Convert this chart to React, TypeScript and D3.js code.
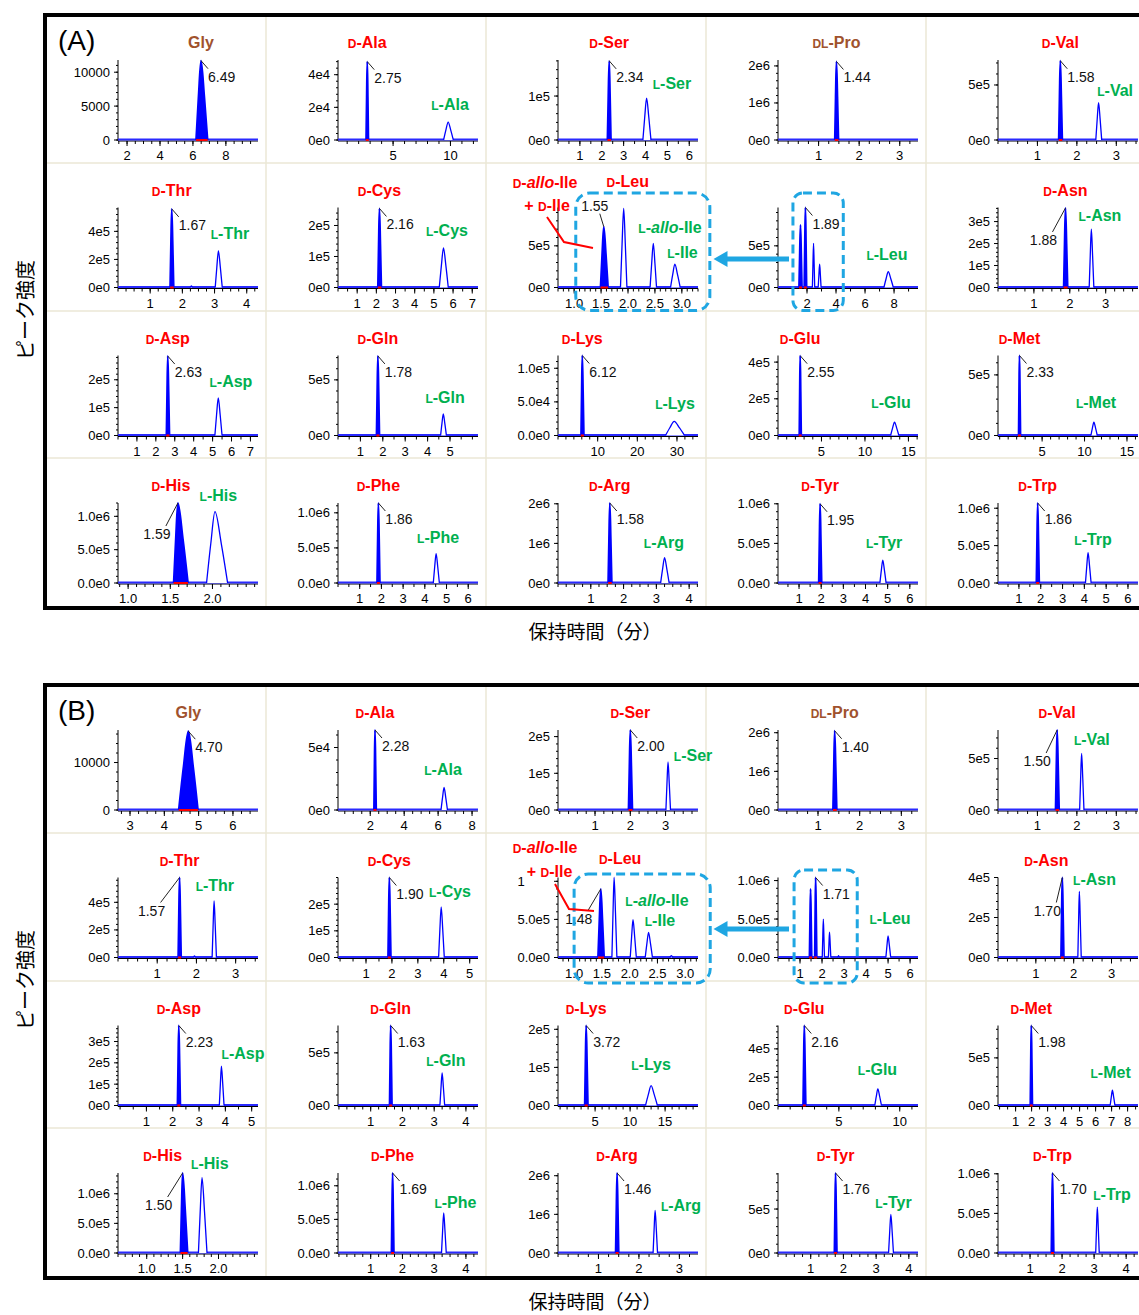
import * as d3 from "d3"

const FONT = "'Liberation Sans', Arial, sans-serif"
const JP = "'Noto Sans CJK JP', sans-serif"
const BLUE = "#0000ff"
const RED = "#ff0000"
const GREEN = "#00b050"
const BROWN = "#a0522d"
const CYAN = "#1fa6e2"
const GRID = "#ebe7d6"

// ---------- (A) ----------
const titlesA = ["Gly", "D-Ala", "D-Ser", "DL-Pro", "D-Val", "D-Thr", "D-Cys", "D-Leu", "", "D-Asn",
  "D-Asp", "D-Gln", "D-Lys", "D-Glu", "D-Met", "D-His", "D-Phe", "D-Arg", "D-Tyr", "D-Trp"]
const lNamesA = ["", "L-Ala", "L-Ser", "", "L-Val", "L-Thr", "L-Cys", "", "L-Leu", "L-Asn",
  "L-Asp", "L-Gln", "L-Lys", "L-Glu", "L-Met", "L-His", "L-Phe", "L-Arg", "L-Tyr", "L-Trp"]
const xDomA = [[1.45, 9.95], [0.2, 12.4], [0, 6.4], [0, 3.45], [0, 3.55], [0, 4.35], [0, 7.3], [0.7, 3.3], [0, 9.65], [0, 3.9],
  [0, 7.4], [0, 6.25], [0, 35.3], [0, 16.1], [-0.2, 16.3], [0.88, 2.54], [0, 6.45], [0, 4.27], [0.05, 6.37], [0.04, 6.46]]
const xTicksA = [[2, 4, 6, 8], [5, 10], [1, 2, 3, 4, 5, 6], [1, 2, 3], [1, 2, 3], [1, 2, 3, 4], [1, 2, 3, 4, 5, 6, 7], [1, 1.5, 2, 2.5, 3], [2, 4, 6, 8], [1, 2, 3],
  [1, 2, 3, 4, 5, 6, 7], [1, 2, 3, 4, 5], [10, 20, 30], [5, 10, 15], [5, 10, 15], [1, 1.5, 2], [1, 2, 3, 4, 5, 6], [1, 2, 3, 4], [1, 2, 3, 4, 5, 6], [1, 2, 3, 4, 5, 6]]
const xMinorA = [0.5, 1, 0.5, 0.25, 0.25, 0.25, 0.5, 0.1, 1, 0.25, 0.5, 0.5, 2, 1, 1, 0.1, 0.5, 0.25, 0.5, 0.5]
const yTicksA = [[0, 5000, 10000], [0, 2e4, 4e4], [0, 1e5], [0, 1e6, 2e6], [0, 5e5], [0, 2e5, 4e5], [0, 1e5, 2e5], [0, 5e5], [0, 5e5], [0, 1e5, 2e5, 3e5],
  [0, 1e5, 2e5], [0, 5e5], [0, 5e4, 1e5], [0, 2e5, 4e5], [0, 5e5], [0, 5e5, 1e6], [0, 5e5, 1e6], [0, 1e6, 2e6], [0, 5e5, 1e6], [0, 5e5, 1e6]]
const yFmtA = ["i", "e", "e", "e", "e", "e", "e", "e", "e", "e", "e", "e", "e1", "e", "e", "e1", "e1", "e", "e1", "e1"]
const yTopA = [11800, 4.9e4, 1.82e5, 2.16e6, 7.27e5, 5.7e5, 2.58e5, 9.6e5, 9.6e5, 3.64e5,
  2.87e5, 7.19e5, 1.19e5, 4.36e5, 6.6e5, 1.2e6, 1.14e6, 2.02e6, 1.01e6, 1.07e6]
// peaks: [retention time, height, left half-width, right half-width, filled]
const peaksA = [
  [[6.49, 11700, 0.3, 0.4, 1]],
  [[2.75, 48000, 0.1, 0.1, 1], [9.8, 11000, 0.4, 0.45, 0]],
  [[2.34, 1.8e5, 0.08, 0.08, 1], [4.05, 0.95e5, 0.17, 0.2, 0]],
  [[1.44, 2.12e6, 0.04, 0.05, 1]],
  [[1.58, 7.2e5, 0.04, 0.05, 1], [2.55, 3.4e5, 0.07, 0.08, 0]],
  [[1.67, 5.6e5, 0.05, 0.06, 1], [2.28, 1.2e4, 0.04, 0.04, 0], [3.12, 2.6e5, 0.1, 0.12, 0]],
  [[2.16, 2.55e5, 0.08, 0.1, 1], [5.5, 1.28e5, 0.22, 0.25, 0]],
  [[1.55, 7.3e5, 0.06, 0.08, 1], [1.92, 9.5e5, 0.06, 0.06, 0], [2.47, 5.3e5, 0.06, 0.06, 0], [2.87, 2.8e5, 0.08, 0.1, 0]],
  [[1.55, 7.5e5, 0.1, 0.1, 1], [1.89, 9.6e5, 0.08, 0.08, 1], [2.45, 5.3e5, 0.08, 0.08, 0], [2.87, 2.8e5, 0.1, 0.1, 0], [7.6, 1.9e5, 0.3, 0.35, 0]],
  [[1.88, 3.62e5, 0.05, 0.06, 1], [2.6, 2.65e5, 0.06, 0.07, 0]],
  [[2.63, 2.85e5, 0.07, 0.09, 1], [5.3, 1.35e5, 0.18, 0.2, 0]],
  [[1.78, 7.15e5, 0.06, 0.07, 1], [4.7, 1.95e5, 0.12, 0.14, 0]],
  [[6.12, 1.19e5, 0.3, 0.4, 1], [29.3, 2.1e4, 2.2, 2.6, 0]],
  [[2.55, 4.35e5, 0.1, 0.12, 1], [13.4, 7.3e4, 0.45, 0.5, 0]],
  [[2.33, 6.6e5, 0.1, 0.12, 1], [11.1, 1.1e5, 0.35, 0.4, 0]],
  [[1.59, 1.2e6, 0.05, 0.12, 1], [2.03, 1.07e6, 0.1, 0.15, 0]],
  [[1.86, 1.14e6, 0.06, 0.07, 1], [4.52, 4.2e5, 0.13, 0.15, 0]],
  [[1.58, 2.02e6, 0.05, 0.06, 1], [3.25, 6.4e5, 0.12, 0.14, 0]],
  [[1.95, 1.0e6, 0.06, 0.07, 1], [4.78, 2.9e5, 0.13, 0.15, 0]],
  [[1.86, 1.07e6, 0.06, 0.07, 1], [4.17, 4.05e5, 0.12, 0.14, 0]],
]
const rtLabelsA = ["6.49", "2.75", "2.34", "1.44", "1.58", "1.67", "2.16", "1.55", "1.89", "1.88",
  "2.63", "1.78", "6.12", "2.55", "2.33", "1.59", "1.86", "1.58", "1.95", "1.86"]
const rtPeakA = [0, 0, 0, 0, 0, 0, 0, 0, 1, 0, 0, 0, 0, 0, 0, 0, 0, 0, 0, 0]
const titlePeakA = [0, 0, 0, 0, 0, 0, 0, 1, 0, 0, 0, 0, 0, 0, 0, 0, 0, 0, 0, 0]
// where the L- name sits: [time, intensity]
const lPosA = [null, [9.96, 2.2e4], [5.21, 1.3e5], null, [2.97, 4.54e5], [3.48, 3.85e5], [5.68, 1.84e5], null, [7.51, 4.08e5], [2.84, 3.32e5],
  [5.97, 1.97e5], [4.78, 3.5e5], [29.5, 4.9e4], [13.0, 1.85e5], [11.35, 2.8e5], [2.07, 1.32e6], [4.61, 6.55e5], [3.23, 1.04e6], [4.84, 5.2e5], [4.4, 5.9e5]]

// ---------- (B) ----------
const titlesB = titlesA
const lNamesB = lNamesA
const xDomB = [[2.65, 6.73], [0.1, 8.35], [-0.05, 3.92], [0.04, 3.4], [0, 3.55], [0, 3.57], [-0.08, 5.32], [0.71, 3.23], [0, 6.36], [0, 3.7],
  [-0.08, 5.24], [-0.03, 4.38], [-0.3, 19.7], [0, 11.5], [-0.1, 8.65], [0.6, 2.55], [-0.03, 4.38], [0, 3.46], [0, 4.28], [0, 4.37]]
const xTicksB = [[3, 4, 5, 6], [2, 4, 6, 8], [1, 2, 3], [1, 2, 3], [1, 2, 3], [1, 2, 3], [1, 2, 3, 4, 5], [1, 1.5, 2, 2.5, 3], [1, 2, 3, 4, 5, 6], [1, 2, 3],
  [1, 2, 3, 4, 5], [1, 2, 3, 4], [5, 10, 15], [5, 10], [1, 2, 3, 4, 5, 6, 7, 8], [1, 1.5, 2], [1, 2, 3, 4], [1, 2, 3], [1, 2, 3, 4], [1, 2, 3, 4]]
const xMinorB = [0.25, 0.5, 0.25, 0.25, 0.25, 0.25, 0.5, 0.1, 0.5, 0.25, 0.5, 0.25, 1, 1, 0.5, 0.1, 0.25, 0.25, 0.25, 0.25]
const yTicksB = [[0, 10000], [0, 5e4], [0, 1e5, 2e5], [0, 1e6, 2e6], [0, 5e5], [0, 2e5, 4e5], [0, 1e5, 2e5], [0, 5e5, 1e6], [0, 5e5, 1e6], [0, 2e5, 4e5],
  [0, 1e5, 2e5, 3e5], [0, 5e5], [0, 1e5, 2e5], [0, 2e5, 4e5], [0, 5e5], [0, 5e5, 1e6], [0, 5e5, 1e6], [0, 1e6, 2e6], [0, 5e5], [0, 5e5, 1e6]]
const yFmtB = ["i", "e", "e", "e", "e", "e", "e", "e1", "e1", "e", "e", "e", "e", "e", "e", "e1", "e1", "e", "e", "e1"]
const yTopB = [16850, 6.4e4, 2.18e5, 2.07e6, 7.77e5, 5.8e5, 3.0e5, 1.05e6, 1.04e6, 4.0e5,
  3.75e5, 7.6e5, 2.1e5, 5.65e5, 8.4e5, 1.35e6, 1.19e6, 2.07e6, 9.1e5, 1.01e6]
const peaksB = [
  [[4.70, 16600, 0.28, 0.28, 1]],
  [[2.28, 6.4e4, 0.06, 0.07, 1], [6.35, 1.8e4, 0.18, 0.2, 0]],
  [[2.0, 2.18e5, 0.05, 0.06, 1], [3.07, 1.31e5, 0.06, 0.07, 0]],
  [[1.40, 2.05e6, 0.04, 0.05, 1]],
  [[1.50, 7.77e5, 0.04, 0.05, 1], [2.12, 5.5e5, 0.05, 0.06, 0]],
  [[1.57, 5.8e5, 0.035, 0.04, 1], [1.95, 1.2e4, 0.03, 0.03, 0], [2.45, 4.1e5, 0.05, 0.06, 0]],
  [[1.90, 3.0e5, 0.05, 0.06, 1], [3.9, 1.9e5, 0.1, 0.12, 0]],
  [[1.48, 9.0e5, 0.05, 0.06, 1], [1.72, 1.05e6, 0.04, 0.05, 0], [2.06, 4.96e5, 0.05, 0.06, 0], [2.34, 3.3e5, 0.06, 0.07, 0], [2.75, 2.5e4, 0.03, 0.03, 0]],
  [[1.48, 8.9e5, 0.05, 0.05, 1], [1.71, 1.04e6, 0.04, 0.05, 1], [2.06, 5.0e5, 0.05, 0.05, 0], [2.34, 3.3e5, 0.05, 0.06, 0], [2.75, 2.5e4, 0.03, 0.03, 0], [5.0, 2.8e5, 0.1, 0.12, 0]],
  [[1.70, 4.0e5, 0.035, 0.04, 1], [2.15, 3.3e5, 0.04, 0.05, 0]],
  [[2.23, 3.75e5, 0.05, 0.06, 1], [3.85, 1.84e5, 0.08, 0.1, 0]],
  [[1.63, 7.6e5, 0.035, 0.04, 1], [3.25, 3.1e5, 0.07, 0.08, 0]],
  [[3.72, 2.1e5, 0.2, 0.25, 1], [13.0, 5.2e4, 0.8, 0.9, 0]],
  [[2.16, 5.65e5, 0.1, 0.12, 1], [8.2, 1.18e5, 0.25, 0.3, 0]],
  [[1.98, 8.4e5, 0.06, 0.07, 1], [7.05, 1.6e5, 0.14, 0.16, 0]],
  [[1.50, 1.35e6, 0.03, 0.07, 1], [1.77, 1.27e6, 0.05, 0.07, 0]],
  [[1.69, 1.19e6, 0.035, 0.04, 1], [3.3, 5.95e5, 0.07, 0.08, 0]],
  [[1.46, 2.07e6, 0.035, 0.04, 1], [2.4, 1.1e6, 0.05, 0.06, 0]],
  [[1.76, 9.1e5, 0.035, 0.04, 1], [3.45, 4.4e5, 0.07, 0.08, 0]],
  [[1.70, 1.01e6, 0.035, 0.04, 1], [3.1, 5.8e5, 0.05, 0.06, 0]],
]
const rtLabelsB = ["4.70", "2.28", "2.00", "1.40", "1.50", "1.57", "1.90", "1.48", "1.71", "1.70",
  "2.23", "1.63", "3.72", "2.16", "1.98", "1.50", "1.69", "1.46", "1.76", "1.70"]
const rtPeakB = rtPeakA
const titlePeakB = titlePeakA
const lPosB = [null, [6.29, 3.28e4], [3.78, 1.5e5], null, [2.38, 6.9e5], [2.47, 5.27e5], [4.24, 2.5e5], null, [5.09, 5.2e5], [2.55, 3.95e5],
  [4.67, 2.44e5], [3.37, 4.37e5], [13.0, 1.08e5], [8.17, 2.6e5], [6.94, 3.57e5], [1.88, 1.52e6], [3.67, 7.6e5], [3.04, 1.24e6], [3.53, 5.8e5], [3.56, 7.45e5]]
// the 1.0e6 label in the Ile cell of (B) only shows its first character in the original
const yTextB: Record<number, string[]> = { 7: ["0.0e0", "5.0e5", "1"] }

// ---------- layout ----------
const COL_LEFT = [46, 266, 486, 706, 926]
const ROW_OFF = [3, 150.5, 298.5, 446]
// rt labels placed left of the apex: [dx, dy] of the text centre
const rtLeftA: Record<number, number[]> = { 7: [-9, -21], 9: [-22, 32], 15: [-21, 31] }
const rtLeftB: Record<number, number[]> = { 4: [-20, 31], 5: [-28, 33], 7: [-22, 30], 9: [-15, 33], 15: [-24, 32] }
const titleShiftA: Record<number, number[]> = { 7: [4, -9], 15: [-7, 0] }
const titleShiftB: Record<number, number[]> = { 7: [6, -2], 9: [-16, 0], 15: [-20, 0] }
const ileA = { dAllo: [59, 18], plus: [61, 41.5], lAllo: [184, 63.5], lIle: [196.5, 88.5],
  ptr: [[61, 53.5], [78, 78.5], [107, 84.5]], box1: [1.03, 3.52], box2: [1.03, 4.5], boxTop: [-14.5, -14.5], boxBot: 23 }
const ileB = { dAllo: [59, 13.5], plus: [63.5, 37.5], lAllo: [171, 66.5], lIle: [174, 86.5],
  ptr: [[69, 50.5], [83, 75.5], [108, 77.5]], box1: [1.0, 3.45], box2: [0.73, 3.6], boxTop: [-3.5, -7.5], boxBot: 25.5 }

const panels = [
  { key: "A", top: 13, titles: titlesA, lNames: lNamesA, xDom: xDomA, xTicks: xTicksA, xMinor: xMinorA, yTicks: yTicksA, yFmt: yFmtA,
    yTop: yTopA, peaks: peaksA, rt: rtLabelsA, rtPeak: rtPeakA, titlePeak: titlePeakA, lPos: lPosA, yText: {} as Record<number, string[]>,
    rtLeft: rtLeftA, titleShift: titleShiftA, ile: ileA },
  { key: "B", top: 683, titles: titlesB, lNames: lNamesB, xDom: xDomB, xTicks: xTicksB, xMinor: xMinorB, yTicks: yTicksB, yFmt: yFmtB,
    yTop: yTopB, peaks: peaksB, rt: rtLabelsB, rtPeak: rtPeakB, titlePeak: titlePeakB, lPos: lPosB, yText: yTextB,
    rtLeft: rtLeftB, titleShift: titleShiftB, ile: ileB },
]
type Panel = (typeof panels)[number]

function fmtY(v: number, f: string) {
  if (f === "i") return String(v)
  if (v === 0) return f === "e1" ? "0.0e0" : "0e0"
  const e = Math.floor(Math.log10(v) + 1e-9)
  const m = v / 10 ** e
  return (f === "e1" ? m.toFixed(1) : String(Math.round(m))) + "e" + e
}

// rough width of a tick label at 13px
const labelWidth = (s: string) => [...s].reduce((w, c) => w + (c === "." ? 3.6 : 7.2), 0)

function geom(p: Panel, i: number) {
  const cx = COL_LEFT[i % 5]
  const cy = p.top + ROW_OFF[Math.floor(i / 5)]
  const left = cx + 72
  const base = cy + 124
  const x = d3.scaleLinear().domain(p.xDom[i]).range([left, left + 140])
  const y = d3.scaleLinear().domain([0, p.yTop[i]]).range([base, base - 80])
  return { cx, cy, left, base, x, y }
}

function NameText({ name, x, y, fill, lead }: { name: string; x: number; y: number; fill: string; lead?: string }) {
  const m = name.match(/^(DL|D|L)-(.+)$/)
  const rest = m ? m[2] : name
  const parts = rest.split(/(allo)/).filter((s) => s !== "")
  return (
    <text x={x} y={y} textAnchor="middle" fontWeight="bold" fill={fill}>
      {lead && <tspan fontSize={16}>{lead}</tspan>}
      {m && <tspan fontSize={12}>{m[1]}</tspan>}
      {m && <tspan fontSize={16}>-</tspan>}
      {parts.map((s, k) => (
        <tspan key={k} fontSize={16} fontStyle={s === "allo" ? "italic" : "normal"}>{s}</tspan>
      ))}
    </text>
  )
}

function Cell({ p, i }: { p: Panel; i: number }) {
  const { cy, left, base, x, y } = geom(p, i)
  const [d0, d1] = p.xDom[i]
  const xs = p.xMinor[i]
  const xMinor = d3.range(Math.ceil(d0 / xs - 1e-6), Math.floor(d1 / xs + 1e-6) + 1).map((k) => k * xs)
  const xt = p.xTicks[i]
  const dec = xt.some((t) => !Number.isInteger(t))
  const yt = p.yTicks[i]
  const ys = (yt[1] - yt[0]) / 5
  const yMinor = d3.range(0, Math.floor(p.yTop[i] / ys + 1e-6) + 1).map((k) => k * ys)
  const yFull = yt.map((v) => fmtY(v, p.yFmt[i]))
  const yText = p.yText[i] ?? yFull
  const peaks = p.peaks[i]
  const line = d3.line<number[]>().x((d) => x(d[0])).y((d) => y(d[1])).curve(d3.curveMonotoneX)
  const shape = (pk: number[]) =>
    line([[pk[0] - pk[2], 0], [pk[0] - pk[2] * 0.5, pk[1] * 0.55], [pk[0], pk[1]], [pk[0] + pk[3] * 0.5, pk[1] * 0.55], [pk[0] + pk[3], 0]]) ?? ""

  const rp = peaks[p.rtPeak[i]]
  const ax = x(rp[0])
  const ay = y(rp[1])
  const off = p.rtLeft[i]
  let lead: number[]
  let tx: number
  let ty: number
  let anchor: "start" | "middle"
  if (off) {
    tx = ax + off[0]
    ty = ay + off[1] + 5
    anchor = "middle"
    lead = off[1] > 0 ? [ax + off[0] + 9, ay + off[1] - 8] : [ax + off[0] + 5, ay + off[1] + 8]
  } else {
    tx = ax + 7
    ty = ay + 21
    anchor = "start"
    lead = [ax + 7, ay + 8]
  }

  const title = p.titles[i]
  const tp = peaks[p.titlePeak[i]]
  const ts = p.titleShift[i] ?? [0, 0]
  const lName = p.lNames[i]
  const lp = p.lPos[i]

  return (
    <g>
      {/* axes */}
      <line x1={left} x2={left} y1={base - 80} y2={base + 1} stroke="#000" />
      <line x1={left} x2={left + 140} y1={base + 1} y2={base + 1} stroke="#000" />
      {yMinor.map((v, k) => (
        <line key={"ym" + k} x1={left - 2} x2={left} y1={y(v)} y2={y(v)} stroke="#000" />
      ))}
      {yt.map((v, k) => (
        <g key={"yt" + k}>
          <line x1={left - 4} x2={left} y1={y(v)} y2={y(v)} stroke="#000" />
          <text x={left - 8 - labelWidth(yFull[k]) + labelWidth(yText[k])} y={y(v) + 4.5} textAnchor="end" fontSize={13}>
            {yText[k]}
          </text>
        </g>
      ))}
      {xMinor.map((v, k) => (
        <line key={"xm" + k} x1={x(v)} x2={x(v)} y1={base + 1} y2={base + 4} stroke="#000" />
      ))}
      {xt.map((v, k) => (
        <g key={"xt" + k}>
          <line x1={x(v)} x2={x(v)} y1={base + 1} y2={base + 6} stroke="#000" />
          <text x={x(v)} y={base + 20} textAnchor="middle" fontSize={13}>{dec ? v.toFixed(1) : String(v)}</text>
        </g>
      ))}
      {/* trace */}
      <line x1={x(d0)} x2={x(d1)} y1={base - 0.5} y2={base - 0.5} stroke="#2a2aff" strokeWidth={2} />
      {peaks.map((pk, k) => (
        <path key={"pk" + k} d={shape(pk)} fill={pk[4] ? BLUE : "#fff"} stroke={BLUE} strokeWidth={pk[4] ? 1.9 : 1.3} />
      ))}
      {peaks.filter((pk) => pk[4]).map((pk, k) => (
        <line key={"rb" + k} x1={Math.min(x(pk[0] - pk[2]), x(pk[0]) - 1.5)} x2={Math.max(x(pk[0] + pk[3]), x(pk[0]) + 1.5)}
          y1={base} y2={base} stroke={RED} strokeWidth={2} />
      ))}
      {/* retention time label */}
      <line x1={ax} y1={ay} x2={lead[0]} y2={lead[1]} stroke="#222" strokeWidth={1} />
      <text x={tx} y={ty} textAnchor={anchor} fontSize={14} fill="#111">{p.rt[i]}</text>
      {title && <NameText name={title} x={x(tp[0]) + ts[0]} y={cy + 32 + ts[1]} fill={title.startsWith("D-") ? RED : BROWN} />}
      {lName && lp && <NameText name={lName} x={x(lp[0])} y={y(lp[1]) + 6} fill={GREEN} />}
    </g>
  )
}

function IleNotes({ p }: { p: Panel }) {
  const n = p.ile
  const g7 = geom(p, 7)
  const g8 = geom(p, 8)
  const cx = COL_LEFT[2]
  const cy = p.top + ROW_OFF[1]
  const boxes = [
    { g: g7, t: n.box1, top: n.boxTop[0], r: 14 },
    { g: g8, t: n.box2, top: n.boxTop[1], r: 10 },
  ]
  const ay = cy + 95.5
  const tip = cx + 227.5
  const tail = COL_LEFT[3] + 83
  return (
    <g>
      {boxes.map((b, k) => (
        <rect key={k} x={b.g.x(b.t[0])} y={b.g.base - 80 + b.top} width={b.g.x(b.t[1]) - b.g.x(b.t[0])}
          height={80 - b.top + n.boxBot} rx={b.r} fill="none" stroke={CYAN} strokeWidth={3} strokeDasharray="9 5" />
      ))}
      <path d={`M${tail},${ay - 2.5}H${tip + 14}V${ay - 8}L${tip},${ay}L${tip + 14},${ay + 8}V${ay + 2.5}H${tail}Z`} fill={CYAN} />
      <polyline points={n.ptr.map(([dx, dy]) => `${cx + dx},${cy + dy}`).join(" ")} fill="none" stroke={RED} strokeWidth={2} />
      <NameText name="D-allo-Ile" x={cx + n.dAllo[0]} y={cy + n.dAllo[1] + 6} fill={RED} />
      <NameText lead={"+\u00a0"} name="D-Ile" x={cx + n.plus[0]} y={cy + n.plus[1] + 6} fill={RED} />
      <NameText name="L-allo-Ile" x={cx + n.lAllo[0]} y={cy + n.lAllo[1] + 6} fill={GREEN} />
      <NameText name="L-Ile" x={cx + n.lIle[0]} y={cy + n.lIle[1] + 6} fill={GREEN} />
    </g>
  )
}

function PanelView({ p }: { p: Panel }) {
  const t = p.top
  return (
    <g>
      {[150, 298, 445].map((o) => (
        <line key={o} x1={47} x2={1139} y1={t + o} y2={t + o} stroke={GRID} strokeWidth={1.5} />
      ))}
      {COL_LEFT.slice(1).map((cx) => (
        <line key={cx} x1={cx} x2={cx} y1={t + 4} y2={t + 593} stroke={GRID} strokeWidth={1.5} />
      ))}
      {p.titles.map((_, i) => (
        <Cell key={i} p={p} i={i} />
      ))}
      <IleNotes p={p} />
      <rect x={45} y={t + 2} width={1120} height={593} fill="none" stroke="#000" strokeWidth={4} />
      <text x={58} y={t + 37} fontSize={28}>({p.key})</text>
      <text transform={`translate(26,${t + 297}) rotate(-90)`} textAnchor="middle" dy="0.35em" fontFamily={JP} fontSize={20}>
        ピーク強度
      </text>
      <text x={595} y={t + 626} textAnchor="middle" fontFamily={JP} fontSize={19}>保持時間（分）</text>
    </g>
  )
}

export default function App() {
  return (
    <svg width={1139} height={1315} viewBox="0 0 1139 1315" fontFamily={FONT}
      style={{ position: "absolute", left: 0, top: 0, display: "block", background: "#fff" }}>
      <rect width={1139} height={1315} fill="#fff" />
      {panels.map((p) => (
        <PanelView key={p.key} p={p} />
      ))}
    </svg>
  )
}
